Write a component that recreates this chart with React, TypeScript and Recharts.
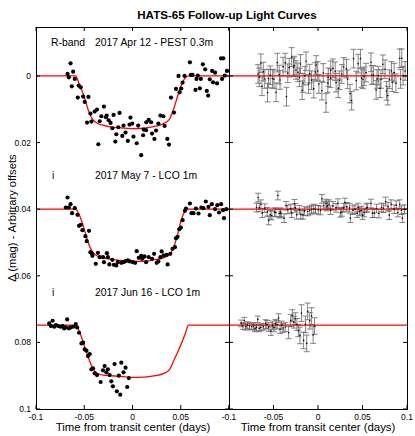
import React from 'react';
import { ComposedChart, Scatter, Line, XAxis, YAxis, ErrorBar, ReferenceLine } from 'recharts';

// time from transit centre (days) and delta mag
const rbandTime = [
  -0.0673, -0.066, -0.0642, -0.0629, -0.0615, -0.0598, -0.0567, -0.0557, -0.0536, -0.0512,
  -0.0495, -0.0471, -0.0457, -0.0436, -0.0426, -0.0392, -0.0368, -0.0354, -0.034, -0.0323,
  -0.0296, -0.0275, -0.0268, -0.0247, -0.0227, -0.0209, -0.0196, -0.0178, -0.0168, -0.0147,
  -0.0134, -0.0106, -0.0093, -0.0072, -0.0048, -0.0031, -0.0021, -0.0003, 0.001, 0.0044,
  0.0059, 0.009, 0.011, 0.0116, 0.0141, 0.0143, 0.0168, 0.0193, 0.0203, 0.0227,
  0.0244, 0.0268, 0.0289, 0.032, 0.0333, 0.0361, 0.0378, 0.0399, 0.043, 0.0451,
  0.0477, 0.0488, 0.0505, 0.0519, 0.0539, 0.0595, 0.0605, 0.0622, 0.0653, 0.0663,
  0.0677, 0.0698, 0.0708, 0.0729, 0.0753, 0.077, 0.0784, 0.0801, 0.0825, 0.0835,
  0.0856, 0.0876, 0.0918, 0.0928, 0.0941, 0.0956, 0.0979,
];
const rbandMag = [
  -0.0006, 0.0004, -0.0038, 0.0031, -0.0013, 0.0009, 0.0065, 0.0029, 0.0034, 0.0062,
  0.0078, 0.014, 0.0063, 0.0113, 0.0137, 0.0107, 0.0101, 0.0205, 0.0136, 0.0121,
  0.0092, 0.0124, 0.0119, 0.0133, 0.0141, 0.0157, 0.0117, 0.0197, 0.0175, 0.0154,
  0.0111, 0.018, 0.0149, 0.017, 0.0195, 0.0146, 0.0125, 0.0143, 0.0182, 0.0202,
  0.0149, 0.0238, 0.0178, 0.0161, 0.0163, 0.0139, 0.0132, 0.0139, 0.0173, 0.0189,
  0.0164, 0.0143, 0.0119, 0.0121, 0.015, 0.0189, 0.0206, 0.0065, 0.011, 0.0039,
  0, 0.0049, 0.0038, 0.002, 0, -0.0041, -0.0003, -0.0003, 0.0042, 0.0009,
  -0.0001, 0.0037, 0.0009, -0.0035, -0.002, 0.0045, 0.0059, 0.001, -0.0015, 0.0019,
  -0.001, 0.0022, -0.0053, 0.0009, -0.0053, -0.0001, -0.0015,
];
const rbandResid = [
  -0.0006, 0.0004, -0.0038, 0.0031, -0.0013, 0.0009, 0.005, 0.0008, -0.0002, 0.0008,
  0.001, 0.0049, -0.004, -0.0004, 0.0012, -0.0028, -0.004, 0.0062, -0.0008, -0.0025,
  -0.0057, -0.0026, -0.0031, -0.0018, -0.0011, 0.0004, -0.0036, 0.0043, 0.0021, -0.0001,
  -0.0044, 0.0024, -0.0007, 0.0013, 0.0038, -0.0012, -0.0033, -0.0015, 0.0024, 0.0044,
  -0.0009, 0.0081, 0.0021, 0.0004, 0.0007, -0.0017, -0.0023, -0.0014, 0.002, 0.0037,
  0.0013, -0.0006, -0.0027, -0.0022, 0.001, 0.0053, 0.0074, -0.0052, 0.0014, -0.0037,
  -0.0052, 0.0006, 0.001, 0.0001, -0.001, -0.0041, -0.0003, -0.0003, 0.0042, 0.0009,
  -0.0001, 0.0037, 0.0009, -0.0035, -0.002, 0.0045, 0.0059, 0.001, -0.0015, 0.0019,
  -0.001, 0.0022, -0.0053, 0.0009, -0.0053, -0.0001, -0.0015,
];
const rbandErr = 0.0028;

const mayTime = [
  -0.0691, -0.0673, -0.066, -0.0642, -0.0626, -0.0598, -0.057, -0.0554, -0.0536, -0.0519,
  -0.0488, -0.0474, -0.0451, -0.0436, -0.0423, -0.0415, -0.0381, -0.0358, -0.034, -0.0306,
  -0.0296, -0.0265, -0.0255, -0.024, -0.0209, -0.0193, -0.0168, -0.0152, -0.0116, -0.0093,
  -0.0072, -0.0048, -0.0028, 0.0003, 0.0028, 0.0044, 0.0065, 0.009, 0.01, 0.0106,
  0.0124, 0.0141, 0.0168, 0.0203, 0.0224, 0.0251, 0.0268, 0.0289, 0.0302, 0.0323,
  0.0354, 0.0364, 0.0392, 0.0415, 0.044, 0.0451, 0.0467, 0.0485, 0.0502, 0.0519,
  0.0543, 0.0554, 0.0595, 0.0611, 0.0632, 0.0657, 0.0684, 0.0714, 0.0735, 0.076,
  0.0787, 0.0801, 0.0822, 0.0856, 0.0879, 0.0897, 0.0918, 0.0938, 0.0948, 0.0972,
];
const mayMag = [
  0.0395, 0.0365, 0.0395, 0.0385, 0.0412, 0.0397, 0.0417, 0.045, 0.0447, 0.0463,
  0.0481, 0.0496, 0.0465, 0.0529, 0.0533, 0.054, 0.0564, 0.0531, 0.0544, 0.0544,
  0.0559, 0.0532, 0.0544, 0.0566, 0.0552, 0.0567, 0.0569, 0.0559, 0.0561, 0.0559,
  0.0556, 0.0554, 0.0557, 0.0559, 0.0561, 0.0526, 0.0546, 0.054, 0.0549, 0.0546,
  0.0542, 0.0559, 0.0544, 0.0549, 0.0534, 0.0561, 0.0557, 0.0544, 0.0527, 0.0539,
  0.0537, 0.0566, 0.0534, 0.0519, 0.0514, 0.0487, 0.0483, 0.046, 0.0455, 0.0433,
  0.0405, 0.0398, 0.0383, 0.0412, 0.0412, 0.0398, 0.0413, 0.0395, 0.0397, 0.0377,
  0.0393, 0.0418, 0.0385, 0.04, 0.0388, 0.041, 0.0385, 0.0403, 0.0427, 0.04,
];
const mayResid = [
  -0.0005, -0.0035, -0.0005, -0.0015, 0.0012, -0.0003, 0.0008, 0.0034, 0.0017, 0.0019,
  0.0009, 0.001, -0.0041, 0.0013, 0.0009, 0.0013, 0.0027, -0.001, 0.0001, -0.0002,
  0.0012, -0.0016, -0.0004, 0.0017, 0.0002, 0.0016, 0.0017, 0.0006, 0.0007, 0.0004,
  0.0001, -0.0002, 0.0001, 0.0002, 0.0004, -0.0031, -0.0011, -0.0017, -0.0008, -0.0011,
  -0.0015, 0.0003, -0.001, -0.0004, -0.0018, 0.0011, 0.0008, -0.0004, -0.002, -0.0007,
  -0.0004, 0.0027, 0.0003, 0, 0.0012, -0.0005, 0.0007, 0.0004, 0.0018, 0.001,
  -0.0003, -0.0005, -0.0017, 0.0012, 0.0012, -0.0002, 0.0013, -0.0005, -0.0003, -0.0023,
  -0.0007, 0.0018, -0.0015, 0, -0.0012, 0.001, -0.0015, 0.0003, 0.0027, 0,
];
const mayErr = 0.0013;

const junTime = [
  -0.0863, -0.0845, -0.0828, -0.0811, -0.0794, -0.077, -0.0745, -0.0725, -0.0708, -0.0691,
  -0.0677, -0.066, -0.0642, -0.0615, -0.0588, -0.0574, -0.0554, -0.0529, -0.0512, -0.0495,
  -0.0477, -0.0461, -0.0443, -0.0426, -0.0409, -0.0392, -0.0368, -0.033, -0.0306, -0.0289,
  -0.0271, -0.0255, -0.0237, -0.022, -0.0203, -0.0186, -0.0162, -0.0141, -0.0127, -0.0116,
  -0.0093, -0.0072, -0.0055, -0.0038,
];
const junMag = [
  0.0743, 0.0751, 0.0735, 0.0753, 0.0748, 0.0751, 0.0753, 0.0751, 0.0758, 0.0755,
  0.0731, 0.0758, 0.0755, 0.0753, 0.0745, 0.0755, 0.0771, 0.0803, 0.0801, 0.0821,
  0.0825, 0.0841, 0.0835, 0.0881, 0.0878, 0.0893, 0.0898, 0.0919, 0.0884, 0.0871,
  0.089, 0.0881, 0.0898, 0.0917, 0.0932, 0.0865, 0.0947, 0.09, 0.0957, 0.0861,
  0.089, 0.0876, 0.0934, 0.0907,
];
const junResid = [
  -0.0005, 0.0003, -0.0013, 0.0005, 0, 0.0003, 0.0005, 0.0003, 0.001, 0.0007,
  -0.0017, 0.001, 0.0007, 0.0005, -0.0003, -0.0001, 0.0006, 0.0018, 0.0001, 0.0007,
  -0.0004, -0.0001, -0.0021, 0.0012, 0.0001, 0.0009, 0.0006, 0.0023, -0.0014, -0.0028,
  -0.0009, -0.0019, -0.0002, 0.0017, 0.0031, -0.0036, 0.0046, -0.0002, 0.0055, -0.0041,
  -0.0013, -0.0027, 0.003, 0.0003,
];
const junErr = [
  0.001, 0.001, 0.001, 0.001, 0.001, 0.001, 0.001, 0.001, 0.001, 0.001,
  0.001, 0.001, 0.001, 0.001, 0.0013, 0.0013, 0.0013, 0.0013, 0.0013, 0.0013,
  0.0013, 0.0013, 0.0013, 0.0013, 0.0013, 0.0013, 0.0013, 0.0018, 0.0018, 0.0018,
  0.0018, 0.0018, 0.0018, 0.0018, 0.0025, 0.0025, 0.0025, 0.0025, 0.0025, 0.0025,
  0.0025, 0.0025, 0.0025, 0.0025,
];

// transit model curves
const modelTime = [-0.1, -0.059, -0.055, -0.05, -0.046, -0.042, -0.037, -0.029, -0.012, 0, 0.012, 0.024, 0.032, 0.038, 0.043, 0.047, 0.051, 0.055, 0.058, 0.1];
const rbandModel = [0, 0, 0.0026, 0.0063, 0.0101, 0.0128, 0.0141, 0.0149, 0.0156, 0.0158, 0.0157, 0.0151, 0.0143, 0.0131, 0.0096, 0.0058, 0.0024, 0.0005, 0, 0];
const mayModel = [0.04, 0.04, 0.0418, 0.046, 0.05, 0.0526, 0.054, 0.0547, 0.0554, 0.0557, 0.0557, 0.0551, 0.0546, 0.0537, 0.0512, 0.0473, 0.0428, 0.0404, 0.04, 0.04];
const junModel = [0.0748, 0.0748, 0.0767, 0.081, 0.0843, 0.0873, 0.0892, 0.0899, 0.0902, 0.0905, 0.0904, 0.09, 0.0894, 0.0883, 0.0853, 0.0828, 0.0801, 0.0771, 0.0748, 0.0748];
const baselines = [0, 0.04, 0.0748];

const xTicks = [-0.1, -0.05, 0, 0.05, 0.1];
const yTicks = [0, 0.02, 0.04, 0.06, 0.08, 0.1];
const xDomain: [number, number] = [-0.1, 0.1];
const yDomain: [number, number] = [-0.0147, 0.1];

const pts = (t: number[], y: number[]) => t.map((v, i) => ({ t: v, y: y[i] }));
const resid = (t: number[], r: number[], base: number, err: number | number[]) =>
  t.map((v, i) => ({ t: v, y: base + r[i], err: Array.isArray(err) ? err[i] : err }));

const W = 415;
const H = 436;
const TOP = 27;
const BOTTOM = 409;
const MID = 229;
const FONT = '"Liberation Sans", Arial, Helvetica, sans-serif';

const BigDot = (p: any) => <circle cx={p.cx} cy={p.cy} r={2.1} fill="#000" />;
const SmallDot = (p: any) => <circle cx={p.cx} cy={p.cy} r={0.8} fill="#000" />;

// gnuplot-like inward ticks on both edges of the panel, drawn with the tick labels
const xTick = (hideLast: boolean) => (p: any) => {
  const v = p.payload.value;
  const x = p.x;
  return (
    <g>
      <line x1={x} x2={x} y1={BOTTOM} y2={BOTTOM - 4} stroke="#000" />
      <line x1={x} x2={x} y1={TOP} y2={TOP + 4} stroke="#000" />
      {!(hideLast && v === 0.1) && (
        <text x={x} y={BOTTOM + 5} dy="0.71em" textAnchor="middle" fontSize={8.5} fill="#000" fontFamily={FONT}>
          {String(v)}
        </text>
      )}
    </g>
  );
};

const yTick = (left: number, right: number, labels: boolean) => (p: any) => {
  const y = p.y;
  return (
    <g>
      <line x1={left} x2={left + 4} y1={y} y2={y} stroke="#000" />
      <line x1={right} x2={right - 4} y1={y} y2={y} stroke="#000" />
      {labels && (
        <text x={left - 5} y={y} dy="0.355em" textAnchor="end" fontSize={8.5} fill="#000" fontFamily={FONT}>
          {String(p.payload.value)}
        </text>
      )}
    </g>
  );
};

const label = (text: string, left: number, top: number) => (
  <div style={{ position: 'absolute', left, top, fontSize: 10.4, lineHeight: '12px', whiteSpace: 'nowrap' }}>{text}</div>
);

const box = (left: number, width: number) => (
  <div style={{ position: 'absolute', left, top: TOP, width, height: BOTTOM - TOP + 1, border: '1px solid #000', boxSizing: 'border-box', pointerEvents: 'none' }} />
);

export default function App() {
  const curves = [
    { time: rbandTime, mag: rbandMag },
    { time: mayTime, mag: mayMag },
    { time: junTime, mag: junMag },
  ];
  const models = [rbandModel, mayModel, junModel];
  const residuals = [
    resid(rbandTime, rbandResid, baselines[0], rbandErr),
    resid(mayTime, mayResid, baselines[1], mayErr),
    resid(junTime, junResid, baselines[2], junErr),
  ];

  return (
    <div style={{ position: 'fixed', left: 0, top: 0, width: W, height: H, background: '#fff', fontFamily: FONT, color: '#000' }}>
      <div style={{ position: 'absolute', left: 0, top: 0 }}>
        <ComposedChart width={W} height={H} margin={{ top: TOP, right: W - MID, bottom: 0, left: 0 }}>
          <XAxis xAxisId="b" dataKey="t" type="number" domain={xDomain} ticks={xTicks} interval={0} height={H - BOTTOM}
            axisLine={false} tickLine={false} tick={xTick(true)} allowDataOverflow />
          <YAxis yAxisId="l" dataKey="y" type="number" domain={yDomain} reversed ticks={yTicks} interval={0} width={36}
            axisLine={false} tickLine={false} tick={yTick(36, MID, true)} allowDataOverflow />
          {curves.map((c, i) => (
            <Scatter key={'s' + i} xAxisId="b" yAxisId="l" data={pts(c.time, c.mag)} dataKey="y"
              shape={BigDot} isAnimationActive={false} />
          ))}
          {models.map((m, i) => (
            <Line key={'m' + i} xAxisId="b" yAxisId="l" data={pts(modelTime, m)} dataKey="y" type="monotone"
              stroke="#ff0000" strokeWidth={1.3} dot={false} activeDot={false} isAnimationActive={false} />
          ))}
        </ComposedChart>
      </div>
      <div style={{ position: 'absolute', left: 0, top: 0 }}>
        <ComposedChart width={W} height={H} margin={{ top: TOP, right: 8, bottom: 0, left: MID - 1 }}>
          <XAxis xAxisId="b" dataKey="t" type="number" domain={xDomain} ticks={xTicks} interval={0} height={H - BOTTOM}
            axisLine={false} tickLine={false} tick={xTick(false)} allowDataOverflow />
          <YAxis yAxisId="l" dataKey="y" type="number" domain={yDomain} reversed ticks={yTicks} interval={0} width={1}
            axisLine={false} tickLine={false} tick={yTick(MID, W - 8, false)} allowDataOverflow />
          {residuals.map((r, i) => (
            <Scatter key={'r' + i} xAxisId="b" yAxisId="l" data={r} dataKey="y" shape={SmallDot} isAnimationActive={false}>
              <ErrorBar dataKey="err" direction="y" width={3} stroke="#666" strokeWidth={0.8} isAnimationActive={false} />
            </Scatter>
          ))}
          {baselines.map((b, i) => (
            <ReferenceLine key={'b' + i} xAxisId="b" yAxisId="l" y={b} stroke="#ff0000" strokeWidth={1.3} />
          ))}
        </ComposedChart>
      </div>
      {box(36, MID - 36 + 1)}
      {box(MID, W - 8 - MID + 1)}

      <div style={{ position: 'absolute', left: 227, top: 14, transform: 'translate(-50%, -50%)', fontSize: 11.6, fontWeight: 'bold', whiteSpace: 'nowrap' }}>
        HATS-65 Follow-up Light Curves
      </div>
      <div style={{ position: 'absolute', left: 12, top: 218, transform: 'translate(-50%, -50%) rotate(-90deg)', fontSize: 11.2, whiteSpace: 'nowrap' }}>
        Δ (mag) - Arbitrary offsets
      </div>
      <div style={{ position: 'absolute', left: 133, top: 427, transform: 'translate(-50%, -50%)', fontSize: 11.4, whiteSpace: 'nowrap' }}>
        Time from transit center (days)
      </div>
      <div style={{ position: 'absolute', left: 318, top: 427, transform: 'translate(-50%, -50%)', fontSize: 11.4, whiteSpace: 'nowrap' }}>
        Time from transit center (days)
      </div>

      {label('R-band', 51, 37)}
      {label('2017 Apr 12 - PEST 0.3m', 95, 37)}
      {label('i', 52, 170)}
      {label('2017 May 7 - LCO 1m', 95, 170)}
      {label('i', 52, 287)}
      {label('2017 Jun 16 - LCO 1m', 95, 287)}
    </div>
  );
}
